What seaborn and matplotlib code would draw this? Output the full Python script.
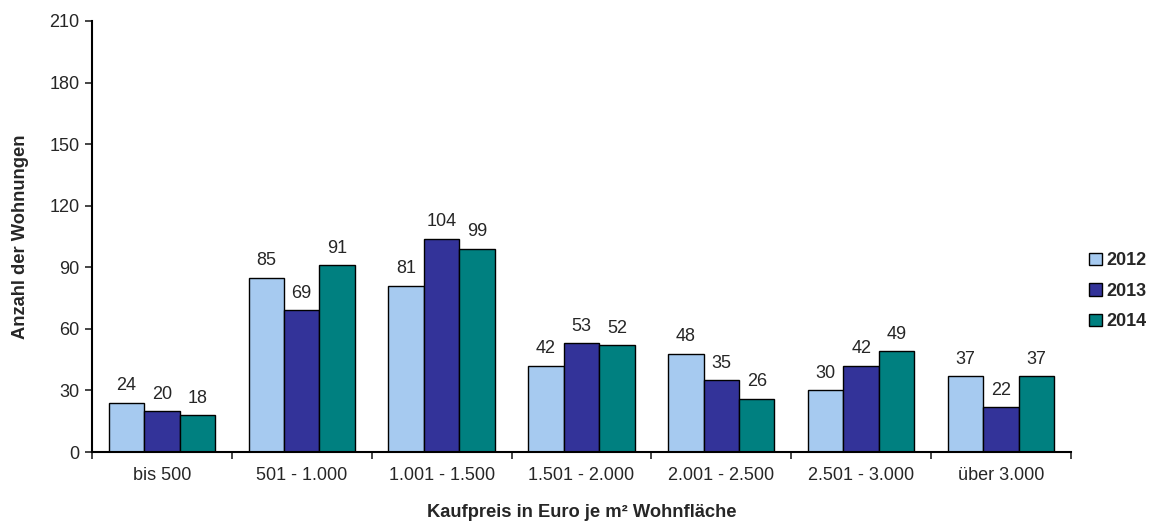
import matplotlib
matplotlib.use("Agg")
import matplotlib.pyplot as plt
import seaborn as sns
import pandas as pd
from matplotlib.patches import Patch

categories = ["bis 500", "501 - 1.000", "1.001 - 1.500", "1.501 - 2.000",
              "2.001 - 2.500", "2.501 - 3.000", "über 3.000"]
years = ["2012", "2013", "2014"]
values_2012 = [24, 85, 81, 42, 48, 30, 37]
values_2013 = [20, 69, 104, 53, 35, 42, 22]
values_2014 = [18, 91, 99, 52, 26, 49, 37]
colors = ["#A6CAF0", "#333399", "#008080"]

df = pd.DataFrame({
    "Kategorie": categories * 3,
    "Jahr": [y for y in years for _ in categories],
    "Anzahl": values_2012 + values_2013 + values_2014,
})

sns.set_style("white")
plt.rcParams["font.family"] = ["Liberation Sans", "DejaVu Sans"]

fig = plt.figure(figsize=(11.54, 5.25), dpi=100)
ax = fig.add_axes([0.0797, 0.139, 0.8483, 0.821])

sns.barplot(data=df, x="Kategorie", y="Anzahl", hue="Jahr", order=categories,
            hue_order=years, palette=colors, width=0.76, edgecolor="black",
            linewidth=1.0, saturation=1, ax=ax, legend=False)

for cont in ax.containers:
    for bar in cont:
        h = bar.get_height()
        ax.annotate(f"{int(round(h))}", (bar.get_x() + bar.get_width() / 2, h),
                    xytext=(0, 6), textcoords="offset points",
                    ha="center", va="bottom", fontsize=13,
                    bbox=dict(facecolor="white", edgecolor="none", pad=1))

ax.set_xlim(-0.5, len(categories) - 0.5)
ax.set_ylim(0, 210)
ax.set_yticks(range(0, 211, 30))
ax.set_xticks([i - 0.5 for i in range(len(categories) + 1)], minor=True)
ax.tick_params(axis="x", which="major", length=0, pad=11, labelsize=13)
ax.tick_params(axis="x", which="minor", length=5, width=1.2, direction="out", bottom=True)
ax.tick_params(axis="y", length=5, width=1.2, direction="out", left=True, labelsize=13, pad=4)

for side in ["top", "right"]:
    ax.spines[side].set_visible(False)
for side in ["left", "bottom"]:
    ax.spines[side].set_linewidth(1.5)
    ax.spines[side].set_color("black")

ax.set_xlabel("Kaufpreis in Euro je m² Wohnfläche", fontsize=13.2,
              fontweight="bold", labelpad=14)
ax.set_ylabel("Anzahl der Wohnungen", fontsize=13.2, fontweight="bold", labelpad=15)

handles = [Patch(facecolor=c, edgecolor="black", linewidth=1.0) for c in colors]
leg = fig.legend(handles, years, loc="center left", bbox_to_anchor=(0.93, 0.445),
                 frameon=False, prop={"weight": "bold", "size": 13},
                 handlelength=0.7, handleheight=0.7, handletextpad=0.25,
                 labelspacing=0.75)

fig.savefig("out.png", dpi=100)
